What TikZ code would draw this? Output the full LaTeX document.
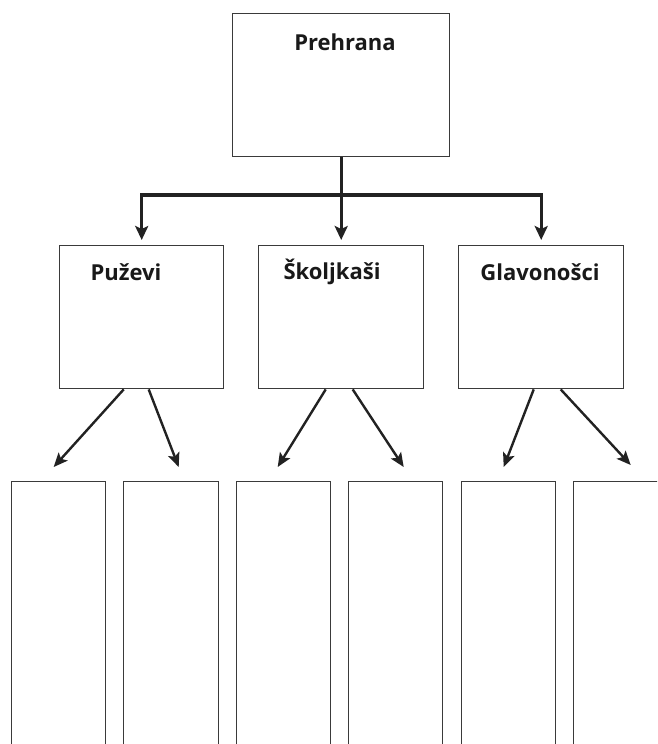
\documentclass[tikz,border=0pt]{standalone}
\usepackage{fontspec}
\setmainfont{Open Sans}
\usetikzlibrary{arrows.meta}
\definecolor{boxline}{HTML}{3A3A3A}
\definecolor{connline}{HTML}{222222}
\begin{document}
\begin{tikzpicture}[x=1pt,y=-1pt,
  box/.style={draw=boxline, line width=1.4pt, fill=white, inner sep=0pt, anchor=north west},
  lbl/.style={font=\fontsize{22}{25}\selectfont\bfseries, text=black!90, inner sep=0pt, anchor=base},
  bus/.style={draw=connline, line width=3.2pt},
  tip/.style={draw=connline, line width=3.2pt, -{Stealth[length=14pt,width=13pt,inset=3pt]}},
  conn/.style={draw=connline, line width=2.4pt, -{Stealth[length=14pt,width=12pt,inset=3pt]}}]
\useasboundingbox (0,0) rectangle (657,744);
\clip (0,0) rectangle (657,744);
% top
\node[box, minimum width=217pt, minimum height=143pt] (top) at (232,13) {};
\node[lbl] (tP) at (345,50) {Prehrana};
% middle
\node[box, minimum width=164pt, minimum height=143pt] (m1) at (59,245) {};
\node[box, minimum width=165pt, minimum height=143pt] (m2) at (258,245) {};
\node[box, minimum width=165pt, minimum height=143pt] (m3) at (458,245) {};
\node[lbl] (t1) at (126,280) {Puževi};
\node[lbl] (t2) at (332,279) {Školjkaši};
\node[lbl] (t3) at (540,280) {Glavonošci};
% bottom
\node[box, minimum width=94pt, minimum height=320pt] (b1) at (11,481) {};
\node[box, minimum width=95pt, minimum height=320pt] (b2) at (123,481) {};
\node[box, minimum width=94pt, minimum height=320pt] (b3) at (236,481) {};
\node[box, minimum width=94pt, minimum height=320pt] (b4) at (348,481) {};
\node[box, minimum width=94pt, minimum height=320pt] (b5) at (461,481) {};
\node[box, minimum width=94pt, minimum height=320pt] (b6) at (573,481) {};
% bus
\coordinate (bL) at (m1.north |- 0,195);
\coordinate (bR) at (m3.north |- 0,195);
\draw[bus, line cap=rect] (bL) -- (bR);
\draw[bus] (top.south) -- (top.south |- bL);
\draw[tip] (bL) -- ([yshift=5pt]m1.north);
\draw[tip] (top.south |- bL) -- ([yshift=5pt]m2.north);
\draw[tip] (bR) -- ([yshift=5pt]m3.north);
% lower connectors
\draw[conn] ([xshift=-18pt]m1.south) -- ([xshift=-5pt,yshift=14pt]b1.north);
\draw[conn] ([xshift=7pt]m1.south) -- ([xshift=7.5pt,yshift=14pt]b2.north);
\draw[conn] ([xshift=-15.5pt]m2.south) -- ([xshift=-6pt,yshift=14pt]b3.north);
\draw[conn] ([xshift=11.5pt]m2.south) -- ([xshift=8pt,yshift=14pt]b4.north);
\draw[conn] ([xshift=-7.5pt]m3.south) -- ([xshift=-5pt,yshift=14pt]b5.north);
\draw[conn] ([xshift=19.5pt]m3.south) -- ([xshift=10pt,yshift=16pt]b6.north);
\end{tikzpicture}
\end{document}
